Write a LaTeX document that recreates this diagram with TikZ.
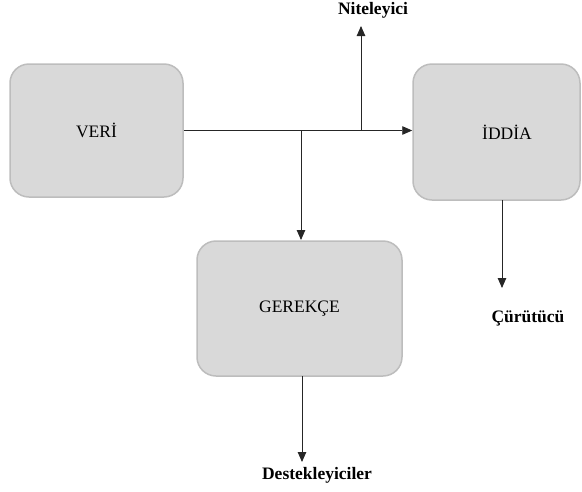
\documentclass[tikz,border=0pt]{standalone}
\usepackage{fontspec}
\setmainfont{Liberation Serif}
\usetikzlibrary{arrows.meta}
\definecolor{boxfill}{HTML}{D9D9D9}
\definecolor{boxline}{HTML}{BDBDBD}
\definecolor{lineclr}{HTML}{262626}
\begin{document}
\begin{tikzpicture}[x=1pt,y=-1pt,
  box/.style={draw=boxline, fill=boxfill, line width=1.5pt, rounded corners=19pt,
    inner sep=0pt, font=\fontsize{17.5}{20}\selectfont, text=black},
  conn/.style={draw=lineclr, line width=0.9pt, -{Triangle[length=10pt,width=8.5pt]}},
  lbl/.style={font=\fontsize{17.5}{20}\selectfont\bfseries, inner sep=0pt}]
\useasboundingbox (0,0) rectangle (582,491);
\node[box, minimum width=173pt, minimum height=133pt] (veri) at (96.5,130.5) {VERİ};
\node[box, minimum width=167pt, minimum height=136pt] (iddia) at (496.5,132) {\hspace*{21pt}İDDİA};
\node[box, minimum width=205pt, minimum height=135pt] (gerekce) at (299.5,308.5) {GEREKÇE};
\node[lbl] (nit) at (373,10) {Niteleyici};
\node[lbl] (cur) at (528,318) {Çürütücü};
\node[lbl] (des) at (317,475) {Destekleyiciler};
\coordinate (j1) at (301,130);
\coordinate (j2) at (361,130);
\coordinate (nitend) at (361,26);
\coordinate (curstart) at (502,200);
\coordinate (curend) at (502,288);
\coordinate (gtop) at (301,240);
\coordinate (gbot) at (302,376);
\coordinate (desend) at (302,462);
\draw[conn] (veri.east) -- (veri.east -| iddia.west);
\draw[conn] (j1) -- (gtop);
\draw[conn] (j2) -- (nitend);
\draw[conn] (curstart) -- (curend);
\draw[conn] (gbot) -- (desend);
\end{tikzpicture}
\end{document}
